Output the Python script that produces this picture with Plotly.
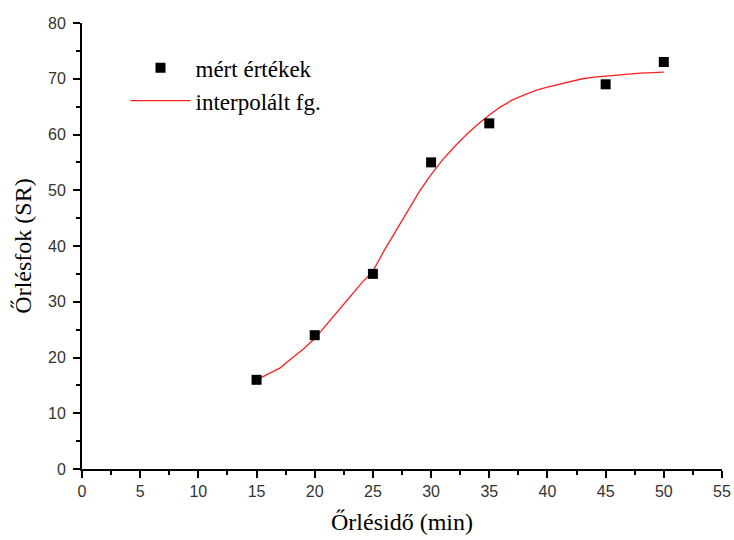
import plotly.graph_objects as go

# measured values
meas_x = [15, 20, 25, 30, 35, 45, 50]
meas_y = [16, 24, 35, 55, 62, 69, 73]

# interpolated function
fit_x = [15, 16, 17, 18, 19, 20, 21, 22, 23, 24, 25, 26, 27, 28, 29, 30, 31, 32,
         33, 34, 35, 36, 37, 38, 39, 40, 41, 42, 43, 44, 45, 46, 47, 48, 49, 50]
fit_y = [16.0, 17.0, 18.1, 19.8, 21.5, 23.4, 25.8, 28.3, 30.8, 33.3, 35.5, 39.3,
         42.8, 46.5, 49.8, 52.8, 55.5, 57.8, 59.9, 61.8, 63.5, 65.0, 66.2, 67.1,
         67.9, 68.5, 69.0, 69.5, 70.0, 70.3, 70.5, 70.7, 70.9, 71.0, 71.1, 71.2]

x_ticks = list(range(0, 56, 5))
y_ticks = list(range(0, 81, 10))

serif = "Liberation Serif, Times New Roman, serif"
sans = "Liberation Sans, Arial, sans-serif"

fig = go.Figure()
fig.add_trace(go.Scatter(
    x=fit_x, y=fit_y, mode="lines", name="interpolált fg.",
    line=dict(color="#ff2020", width=1.3), legendgroup="b", legendrank=2))
fig.add_trace(go.Scatter(
    x=meas_x, y=meas_y, mode="markers", name="mért értékek",
    marker=dict(symbol="square", size=10, color="black"),
    legendgroup="a", legendrank=1))

axis_common = dict(
    showline=True, linecolor="black", linewidth=2,
    ticks="outside", ticklen=7, tickwidth=2, tickcolor="black",
    showgrid=False, zeroline=False, mirror=False, automargin=False,
    tickfont=dict(family=sans, size=16, color="#333333"),
)

fig.update_layout(
    width=734, height=540,
    margin=dict(l=82, r=12, t=23, b=71),
    paper_bgcolor="white", plot_bgcolor="white",
    showlegend=True,
    legend=dict(
        x=0.068, y=0.948, xanchor="left", yanchor="top",
        bgcolor="rgba(0,0,0,0)", font=dict(family=serif, size=23, color="black"),
        traceorder="grouped", tracegroupgap=0, itemwidth=60,
    ),
    xaxis=dict(
        range=[0, 55], tickvals=x_ticks, ticktext=[str(v) for v in x_ticks],
        minor=dict(dtick=2.5, ticklen=4, tickwidth=2, tickcolor="black", ticks="outside"),
        title=dict(text="Őrlésidő (min)", font=dict(family=serif, size=24, color="black"),
                   standoff=14),
        **axis_common),
    yaxis=dict(
        range=[0, 80], tickvals=y_ticks, ticktext=[str(v) for v in y_ticks],
        ticklabelstandoff=4,
        minor=dict(dtick=5, ticklen=4, tickwidth=2, tickcolor="black", ticks="outside"),
        title=dict(text="Őrlésfok (SR)", font=dict(family=serif, size=24, color="black"),
                   standoff=10),
        **axis_common),
)

fig.write_html("out.html")
